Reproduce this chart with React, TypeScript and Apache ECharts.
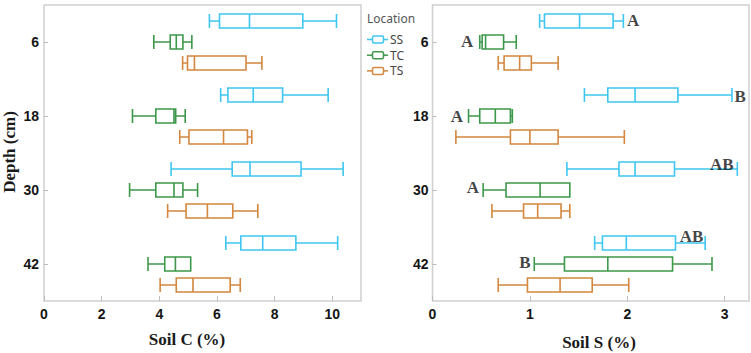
import React, { useEffect, useRef } from "react";
import * as echarts from "echarts";

const depths = ["6", "18", "30", "42"];
const locations = ["SS", "TC", "TS"];

// [min, Q1, median, Q3, max] for each depth (6, 18, 30, 42 cm)
const soilC_SS = [
  [5.74, 6.09, 7.13, 8.98, 10.15],
  [6.13, 6.38, 7.26, 8.28, 9.86],
  [4.41, 6.53, 7.15, 8.92, 10.38],
  [6.31, 6.83, 7.59, 8.74, 10.19],
];
const soilC_TC = [
  [3.81, 4.38, 4.59, 4.82, 5.13],
  [3.07, 3.88, 4.51, 4.57, 4.9],
  [2.97, 3.88, 4.51, 4.82, 5.33],
  [3.61, 4.19, 4.56, 5.09, 5.09],
];
const soilC_TS = [
  [4.81, 4.98, 5.22, 7.01, 7.56],
  [4.71, 5.03, 6.23, 7.06, 7.21],
  [4.29, 4.93, 5.67, 6.55, 7.42],
  [4.03, 4.59, 5.17, 6.46, 6.81],
];

const soilS_SS = [
  [1.1, 1.15, 1.51, 1.855, 1.96],
  [1.56, 1.8, 2.08, 2.52, 3.075],
  [1.38, 1.915, 2.08, 2.485, 3.13],
  [1.665, 1.745, 1.99, 2.495, 2.8],
];
const soilS_TC = [
  [0.485, 0.51, 0.545, 0.73, 0.86],
  [0.37, 0.485, 0.645, 0.8, 0.82],
  [0.52, 0.755, 1.105, 1.41, 1.41],
  [1.045, 1.355, 1.8, 2.465, 2.87],
];
const soilS_TS = [
  [0.675, 0.735, 0.895, 1.015, 1.29],
  [0.24, 0.8, 1.0, 1.29, 1.97],
  [0.61, 0.935, 1.08, 1.32, 1.41],
  [0.675, 0.975, 1.31, 1.64, 2.015],
];

const soilCTicks = [0, 11, 2];
const soilSTicks = [0, 3.25, 1];

// significance letters on the Soil S panel
const letterText = ["A", "A", "B", "A", "AB", "A", "AB", "B"];
const letterDepth = ["6", "6", "18", "18", "30", "30", "42", "42"];
const letterValue = [2.06, 0.355, 3.16, 0.25, 2.97, 0.416, 2.66, 0.95];
const letterDy = [-22, -1, -20, 0, -26, -3, -27.5, -1.5];

const COLORS: Record<string, string> = {
  SS: "#3fc6f1",
  TC: "#3e984b",
  TS: "#d3873f",
};

const NARROW =
  "'Liberation Sans Narrow', 'Arial Narrow', 'Liberation Sans', Arial, sans-serif";
const SERIF = "'Liberation Serif', 'Times New Roman', serif";
const LEGEND_FONT = "'Noto Sans', 'Open Sans', sans-serif";

export default function App() {
  const ref = useRef<HTMLDivElement>(null);

  useEffect(() => {
    if (!ref.current) return;
    const chart = echarts.init(ref.current, null, { renderer: "svg" });

    const gridTop = 5;
    const gridH = 296;

    const xAxisCommon = (gridIndex: number, ticks: number[]) => ({
      type: "value",
      gridIndex,
      min: ticks[0],
      max: ticks[1],
      interval: ticks[2],
      splitLine: { show: false },
      axisLine: { show: false },
      axisTick: {
        show: true,
        inside: true,
        length: 5,
        lineStyle: { color: "#bdbdbd", width: 1 },
      },
      axisLabel: {
        showMaxLabel: false,
        margin: 6,
        fontFamily: NARROW,
        fontWeight: "bold",
        fontSize: 14,
        color: "#151515",
      },
    });

    const yAxisCommon = (gridIndex: number, margin: number) => ({
      type: "category",
      gridIndex,
      data: depths,
      inverse: true,
      axisLine: { show: false },
      axisTick: {
        show: true,
        inside: true,
        alignWithLabel: true,
        length: 4,
        lineStyle: { color: "#bdbdbd", width: 1 },
      },
      axisLabel: {
        margin,
        fontFamily: NARROW,
        fontWeight: "bold",
        fontSize: 14,
        color: "#151515",
      },
      splitLine: { show: false },
    });

    const boxSeries = (
      name: string,
      data: number[][],
      axisIndex: number
    ) => ({
      type: "boxplot",
      name,
      xAxisIndex: axisIndex,
      yAxisIndex: axisIndex,
      layout: "horizontal",
      boxWidth: [14, 14],
      data,
      itemStyle: {
        color: "rgba(255,255,255,0)",
        borderColor: COLORS[name],
        borderWidth: 1.6,
      },
      emphasis: { disabled: true },
    });

    const legendGraphics: any[] = [
      {
        type: "text",
        x: 367,
        y: 18,
        style: {
          text: "Location",
          fontFamily: LEGEND_FONT,
          fontSize: 12,
          fill: "#555",
          align: "left",
          verticalAlign: "middle",
          textAlign: "left",
          textVerticalAlign: "middle",
        },
      },
    ];
    locations.forEach((loc, i) => {
      const y = 39.5 + i * 15.7;
      legendGraphics.push(
        {
          type: "line",
          shape: { x1: 367, y1: y, x2: 388, y2: y },
          style: { stroke: COLORS[loc], lineWidth: 1.5 },
        },
        {
          type: "rect",
          shape: { x: 372.5, y: y - 3.5, width: 11, height: 7, r: 1.5 },
          style: { fill: "#fff", stroke: COLORS[loc], lineWidth: 1.5 },
        },
        {
          type: "text",
          x: 390,
          y,
          style: {
            text: loc,
            fontFamily: LEGEND_FONT,
            fontSize: 12,
            lineHeight: 13,
            fill: "#444",
            align: "left",
            verticalAlign: "middle",
            textAlign: "left",
            textVerticalAlign: "middle",
          },
        }
      );
    });

    const titleStyle = (text: string) => ({
      text,
      fontFamily: SERIF,
      fontWeight: "bold",
      fontSize: 17,
      fill: "#1a1a1a",
      align: "center",
      verticalAlign: "middle",
      textAlign: "center",
      textVerticalAlign: "middle",
    });

    chart.setOption({
      animation: false,
      backgroundColor: "#fff",
      grid: [
        {
          left: 44,
          top: gridTop,
          width: 317,
          height: gridH,
          show: true,
          borderColor: "#cfcfcf",
          borderWidth: 1.5,
          backgroundColor: "transparent",
        },
        {
          left: 432.5,
          top: gridTop,
          width: 316.5,
          height: gridH,
          show: true,
          borderColor: "#cfcfcf",
          borderWidth: 1.5,
          backgroundColor: "transparent",
        },
      ],
      xAxis: [xAxisCommon(0, soilCTicks), xAxisCommon(1, soilSTicks)],
      yAxis: [yAxisCommon(0, 5), yAxisCommon(1, 4)],
      series: [
        boxSeries("SS", soilC_SS, 0),
        boxSeries("TC", soilC_TC, 0),
        boxSeries("TS", soilC_TS, 0),
        boxSeries("SS", soilS_SS, 1),
        boxSeries("TC", soilS_TC, 1),
        boxSeries("TS", soilS_TS, 1),
        {
          type: "scatter",
          xAxisIndex: 1,
          yAxisIndex: 1,
          symbolSize: 1,
          itemStyle: { color: "rgba(0,0,0,0)" },
          silent: true,
          data: letterText.map((t, i) => ({
            value: [letterValue[i], letterDepth[i]],
            label: { formatter: t, offset: [0, letterDy[i]] },
          })),
          label: {
            show: true,
            position: "inside",
            fontFamily: SERIF,
            fontWeight: "bold",
            fontSize: 17,
            color: "#111",
          },
        },
      ],
      graphic: [
        ...legendGraphics,
        {
          type: "text",
          x: 187,
          y: 339,
          style: titleStyle("Soil C (%)"),
        },
        {
          type: "text",
          x: 599,
          y: 342,
          style: titleStyle("Soil S (%)"),
        },
        {
          type: "text",
          x: 9,
          y: 152,
          rotation: Math.PI / 2,
          style: titleStyle("Depth (cm)"),
        },
      ],
    });

    return () => chart.dispose();
  }, []);

  return (
    <div
      ref={ref}
      style={{ position: "fixed", left: 0, top: 0, width: 751, height: 353 }}
    />
  );
}
